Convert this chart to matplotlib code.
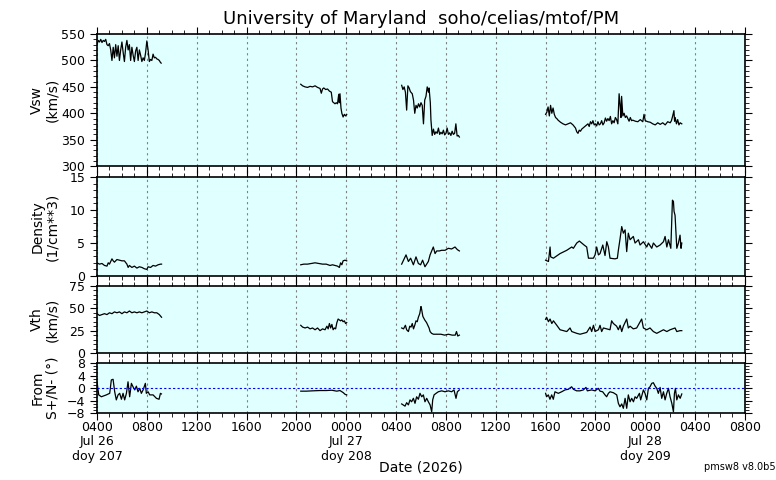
import matplotlib
matplotlib.use("Agg")
import matplotlib.pyplot as plt
from matplotlib.ticker import MultipleLocator, FixedLocator

# times are hours since 2026 Jul 26 00:00 UT
vsw_t = [
    [4.0, 4.1, 4.2, 4.3, 4.4, 4.5, 4.6, 4.7, 4.8, 4.9, 5.0, 5.1, 5.2, 5.3, 5.4, 5.5, 5.6, 5.7, 5.8,
     5.9, 6.0, 6.1, 6.2, 6.3, 6.4, 6.5, 6.6, 6.7, 6.8, 6.9, 7.0, 7.1, 7.2, 7.3, 7.4, 7.5, 7.6, 7.7,
     7.8, 7.9, 8.0, 8.1, 8.2, 8.3, 8.4, 8.5, 8.6, 8.7, 8.8, 8.9, 9.0, 9.1, 9.15],
    [20.35, 20.5, 20.7, 20.9, 21.1, 21.3, 21.5, 21.7, 21.9, 22.0, 22.1, 22.2, 22.35, 22.5, 22.65,
     22.8, 22.9, 23.0, 23.1, 23.2, 23.3, 23.4, 23.45, 23.5, 23.58, 23.65, 23.75, 23.85, 23.95, 24.04],
    [28.45, 28.55, 28.65, 28.75, 28.85, 28.95, 29.05, 29.15, 29.3, 29.4, 29.5, 29.6, 29.7, 29.8,
     29.9, 30.0, 30.1, 30.2, 30.3, 30.4, 30.5, 30.6, 30.65, 30.75, 30.8, 30.9, 31.0, 31.1, 31.2,
     31.3, 31.4, 31.5, 31.6, 31.7, 31.8, 31.9, 32.0, 32.1, 32.2, 32.3, 32.4, 32.5, 32.6, 32.7,
     32.8, 32.9, 33.0, 33.08],
    [40.0, 40.1, 40.2, 40.3, 40.4, 40.5, 40.6, 40.7, 40.8, 40.9, 41.0, 41.2, 41.4, 41.6, 41.8,
     42.0, 42.2, 42.4, 42.5, 42.6, 42.7, 42.8, 42.9, 43.0, 43.2, 43.4, 43.5, 43.6, 43.7, 43.8,
     43.9, 44.0, 44.1, 44.2, 44.3, 44.4, 44.5, 44.6, 44.7, 44.8, 44.9, 45.0, 45.1, 45.2, 45.3,
     45.4, 45.5, 45.6, 45.7, 45.8, 45.9, 46.0, 46.05, 46.1, 46.2, 46.3, 46.4, 46.5, 46.6, 46.7,
     46.8, 46.9, 47.0, 47.2, 47.4, 47.6, 47.8, 47.9, 48.0, 48.2, 48.4, 48.6, 48.8, 49.0, 49.2,
     49.4, 49.6, 49.8, 50.0, 50.1, 50.2, 50.3, 50.35, 50.4, 50.5, 50.6, 50.7, 50.8, 50.93],
]
vsw = [
    [530, 538, 535, 540, 534, 538, 536, 540, 530, 528, 532, 520, 500, 525, 505, 530, 508, 528, 500,
     520, 535, 515, 498, 525, 538, 520, 530, 500, 525, 510, 498, 518, 525, 500, 520, 510, 498, 505,
     500, 515, 537, 520, 498, 502, 500, 512, 505, 506, 503, 502, 500, 496, 495],
    [455, 452, 450, 449, 451, 450, 452, 449, 447, 438, 446, 448, 445, 446, 442,
     440, 422, 420, 418, 420, 418, 436, 420, 437, 410, 400, 393, 398, 395, 398],
    [453, 445, 450, 440, 406, 452, 448, 441, 437, 425, 400, 415, 410, 418,
     412, 420, 415, 380, 425, 432, 450, 440, 448, 420, 387, 358, 370, 360, 365,
     362, 372, 360, 364, 361, 368, 359, 362, 372, 360, 363, 358, 366, 360, 362,
     380, 357, 358, 355],
    [398, 402, 412, 395, 415, 400, 410, 398, 392, 390, 387, 383, 380, 378, 380,
     382, 378, 372, 365, 362, 368, 366, 370, 372, 376, 380, 375, 384, 380, 386,
     378, 380, 376, 384, 378, 380, 386, 378, 382, 391, 385, 390, 386, 394, 380,
     386, 382, 392, 388, 380, 437, 410, 392, 432, 395, 400, 392, 395, 390, 385,
     392, 386, 387, 385, 384, 388, 384, 398, 386, 384, 383, 380, 378, 382, 379,
     382, 378, 384, 382, 386, 395, 405, 385, 392, 380, 388, 378, 382, 380],
]

den_t = [
    [4.0, 4.2, 4.4, 4.6, 4.8, 4.9, 5.0, 5.2, 5.3, 5.4, 5.6, 5.8, 6.0, 6.2, 6.4, 6.5, 6.6, 6.8, 7.0,
     7.2, 7.4, 7.6, 7.8, 8.0, 8.1, 8.3, 8.5, 8.7, 8.9, 9.1, 9.18],
    [20.35, 20.6, 20.9, 21.2, 21.5, 21.8, 22.1, 22.4, 22.7, 22.9, 23.1, 23.3, 23.45, 23.55, 23.65,
     23.75, 23.9, 24.04],
    [28.45, 28.8, 28.99, 29.17, 29.39, 29.6, 29.79, 29.97, 30.13, 30.32, 30.59, 30.73, 30.86,
     30.99, 31.13, 31.26, 31.47, 31.66, 31.93, 32.2, 32.46, 32.73, 32.92, 33.08],
    [40.0, 40.23, 40.36, 40.41, 40.63, 41.16, 41.7, 42.1, 42.23, 42.5, 42.71, 42.9, 43.09, 43.3,
     43.44, 43.84, 43.97, 44.1, 44.24, 44.37, 44.59, 44.77, 44.91, 45.04, 45.17, 45.57, 45.76,
     45.84, 45.98, 46.11, 46.24, 46.38, 46.51, 46.64, 46.78, 47.04, 47.18, 47.45, 47.58, 47.85,
     48.12, 48.25, 48.52, 48.65, 48.92, 49.19, 49.46, 49.59, 49.73, 49.86, 50.05, 50.18, 50.26,
     50.31, 50.39, 50.53, 50.66, 50.79, 50.87, 50.93],
]
den = [
    [2.0, 1.8, 1.9, 1.6, 1.5, 2.0, 1.8, 2.6, 2.3, 2.1, 2.5, 2.4, 2.3, 2.3, 1.8, 1.3, 1.6, 1.3, 1.5,
     1.2, 1.4, 1.3, 1.1, 1.0, 1.4, 1.3, 1.6, 1.5, 1.7, 1.8, 1.8],
    [1.7, 1.8, 1.8, 1.9, 2.0, 1.9, 1.8, 1.8, 1.6, 1.7, 1.6, 1.5, 1.3, 2.0, 1.7, 2.3, 2.4, 2.3],
    [1.8, 3.2, 2.2, 2.7, 1.7, 2.9, 1.9, 1.7, 2.4, 1.4, 2.2, 3.2, 3.8, 4.4, 3.4, 3.8, 3.8, 3.9,
     3.9, 4.2, 4.1, 4.4, 4.0, 3.8],
    [2.4, 2.2, 4.4, 2.9, 2.7, 3.4, 3.9, 4.4, 4.2, 5.0, 5.3, 5.0, 4.7, 4.4, 2.7, 2.7, 3.2, 4.4,
     3.2, 3.4, 4.7, 3.1, 5.2, 4.4, 2.7, 2.6, 2.7, 3.9, 5.7, 7.5, 6.5, 7.0, 3.7, 6.5, 5.5, 6.0,
     5.0, 5.5, 4.7, 5.2, 4.4, 5.0, 4.2, 5.0, 4.4, 4.7, 5.2, 6.0, 4.4, 5.5, 4.2, 11.5, 11.3, 9.8,
     9.2, 4.2, 5.0, 6.2, 4.2, 5.0],
]

vth_t = [
    [4.0, 4.2, 4.4, 4.6, 4.8, 5.0, 5.2, 5.4, 5.6, 5.8, 6.0, 6.2, 6.4, 6.6, 6.8, 7.0, 7.2, 7.4, 7.6,
     7.8, 8.0, 8.2, 8.4, 8.6, 8.8, 9.0, 9.18],
    [20.35, 20.5, 20.7, 20.9, 21.1, 21.3, 21.5, 21.7, 21.9, 22.1, 22.3, 22.45, 22.55, 22.65, 22.75,
     22.85, 22.95, 23.05, 23.15, 23.25, 23.35, 23.45, 23.55, 23.65, 23.75, 23.85, 23.95, 24.04],
    [28.45, 28.6, 28.75, 28.85, 28.99, 29.1, 29.2, 29.3, 29.4, 29.5, 29.6, 29.7, 29.79, 29.9, 30.0,
     30.05, 30.15, 30.3, 30.45, 30.55, 30.65, 30.73, 30.85, 31.0, 31.3, 31.6, 31.9, 32.2, 32.5,
     32.75, 32.85, 32.95, 33.08],
    [40.0, 40.08, 40.23, 40.36, 40.5, 40.63, 40.9, 41.16, 41.7, 41.96, 42.1, 42.5, 42.77, 43.3,
     43.57, 43.7, 43.84, 43.97, 44.24, 44.37, 44.5, 44.64, 45.17, 45.3, 45.44, 45.7, 45.84, 45.98,
     46.11, 46.24, 46.51, 46.64, 46.78, 47.04, 47.31, 47.71, 47.85, 48.12, 48.38, 48.65, 48.92,
     49.19, 49.46, 49.73, 49.99, 50.39, 50.53, 50.79, 50.93],
]
vth = [
    [44, 42, 43, 44, 43, 45, 44, 46, 45, 46, 44, 46, 45, 47, 45, 46, 45, 46, 45,
     46, 47, 45, 46, 45, 45, 43, 40],
    [31, 29, 28, 29, 27, 28, 26, 28, 25, 27, 26, 30, 27, 33, 28,
     32, 26, 28, 27, 34, 38, 37, 36, 37, 35, 36, 33, 34],
    [28, 27, 31, 26, 24, 30, 29, 33, 27, 31, 36, 35, 40, 44, 52,
     49, 41, 37, 34, 31, 28, 24, 22, 21, 21, 21, 20, 21, 20,
     20, 24, 19, 20],
    [37.7, 40, 35, 38, 33, 36, 31, 26, 24, 28, 24, 22, 21, 23,
     29, 24, 31, 24, 26, 31, 24, 28, 26, 36, 33, 30, 26, 31,
     24, 30, 38, 28, 30, 27, 28, 38, 28, 26, 28, 24, 22,
     24, 26, 24, 26, 28, 24, 25, 25],
]

ang_t = [
    [4.0, 4.14, 4.35, 4.75, 5.02, 5.15, 5.29, 5.42, 5.55, 5.69, 5.82, 5.96, 6.09, 6.22, 6.36, 6.49,
     6.62, 6.76, 6.89, 7.03, 7.16, 7.29, 7.43, 7.56, 7.7, 7.88, 7.96, 8.1, 8.23, 8.5, 8.77, 8.98,
     9.09, 9.17],
    [20.35, 20.8, 21.3, 21.9, 22.4, 22.84, 23.24, 23.5, 23.77, 23.9, 24.04],
    [28.45, 28.72, 28.85, 28.99, 29.12, 29.25, 29.39, 29.52, 29.65, 29.79, 29.92, 30.06, 30.19,
     30.32, 30.46, 30.59, 30.73, 30.86, 30.94, 31.05, 31.21, 31.39, 31.66, 31.93, 32.2, 32.46,
     32.65, 32.81, 32.92, 33.08],
    [40.0, 40.08, 40.22, 40.35, 40.49, 40.62, 40.75, 41.02, 41.29, 41.56, 41.82, 42.09, 42.23,
     42.49, 42.76, 43.03, 43.24, 43.35, 43.7, 43.97, 44.23, 44.37, 44.58, 44.77, 44.9, 45.04,
     45.17, 45.44, 45.71, 45.84, 45.97, 46.11, 46.24, 46.38, 46.51, 46.64, 46.78, 46.91, 47.05,
     47.18, 47.31, 47.53, 47.63, 47.85, 47.98, 48.12, 48.25, 48.38, 48.52, 48.65, 48.79, 48.92,
     49.05, 49.19, 49.32, 49.46, 49.59, 49.72, 49.86, 49.99, 50.13, 50.26, 50.34, 50.42, 50.53,
     50.66, 50.8, 50.93],
]
ang = [
    [2.0, -2.2, -2.8, -2.2, -1.7, 2.6, 2.8, -1.2, -3.8, -2.2, -1.7, -3.6, -1.7, -3.8, -1.7, 2.0,
     -2.8, 1.5, 0.4, -0.6, 0.6, -1.2, -0.1, -1.7, -0.6, 1.5, -1.7, -1.2, -2.2, -2.2, -3.3, -3.6,
     -1.7, -1.9],
    [-1.0, -1.0, -0.9, -0.8, -0.8, -0.7, -1.0, -0.8, -1.5, -2.0, -2.2],
    [-5.1, -5.8, -4.7, -5.4, -3.8, -4.4, -3.3, -4.9, -2.8, -3.6, -1.7, -2.8, -2.2,
     -4.4, -3.3, -4.4, -5.4, -7.6, -3.8, -2.2, -1.7, -1.2, -0.9, -1.2, -0.9, -1.2,
     -0.6, -3.3, -1.2, -0.6],
    [-1.7, -2.8, -2.2, -3.6, -2.2, -3.6, -1.2, -1.7, -1.2, -0.6, -0.4, 0.4, -0.4,
     -0.9, -0.9, -0.6, 0.2, -0.9, -0.6, -0.9, -0.1, -1.0, -1.2, -2.2, -2.8, -1.7,
     -1.2, -1.5, -2.2, -4.9, -6.0, -5.1, -6.5, -3.3, -6.5, -2.2, -4.4, -3.3, -4.4,
     -2.8, -3.3, -1.7, -3.8, -0.6, -1.7, -3.8, -0.1, 0.4, 1.5, 1.7, 0.6, -0.1,
     -1.7, 0.2, -3.3, -1.2, -3.8, -1.7, -0.1, -2.8, -4.9, -7.6, -1.7, -0.1, -3.8,
     -2.2, -3.3, -1.9],
]

tick_hours = list(range(4, 57, 4))
tick_labels = ["0400\nJul 26\ndoy 207", "0800", "1200", "1600", "2000",
               "0000\nJul 27\ndoy 208", "0400", "0800", "1200", "1600", "2000",
               "0000\nJul 28\ndoy 209", "0400", "0800"]

panels = [
    (vsw_t, vsw, "Vsw\n(km/s)", (300, 550), 50, 10),
    (den_t, den, "Density\n(1/cm**3)", (0, 15), 5, 1),
    (vth_t, vth, "Vth\n(km/s)", (0, 75), 25, 5),
    (ang_t, ang, "From\nS+/N- (°)", (-8, 8), 4, 1),
]
# [bottom, height] in figure fraction
boxes = [(0.654, 0.275), (0.425, 0.206), (0.2646, 0.1396), (0.1396, 0.104)]

fig = plt.figure(figsize=(7.76, 4.8), dpi=100)

for i, (ts, vs, lab, lim, major, minor) in enumerate(panels):
    ax = fig.add_axes([0.125, boxes[i][0], 0.835, boxes[i][1]])
    ax.set_facecolor("#e0ffff")
    for t, v in zip(ts, vs):
        ax.plot(t, v, color="black", lw=0.9)
    ax.set_xlim(4, 56)
    ax.set_ylim(*lim)
    ax.xaxis.set_major_locator(FixedLocator(tick_hours))
    ax.xaxis.set_minor_locator(MultipleLocator(1))
    ax.yaxis.set_major_locator(MultipleLocator(major))
    ax.yaxis.set_minor_locator(MultipleLocator(minor))
    ax.tick_params(which="both", direction="out", top=True, right=True, labelsize=9)
    ax.tick_params(which="major", length=5)
    ax.tick_params(which="minor", length=3)
    ax.tick_params(axis="x", pad=0.5)
    ax.grid(axis="x", which="major", color="gray", ls=(0, (2, 3)), lw=0.8)
    for s in ax.spines.values():
        s.set_linewidth(1.2)
    ax.set_ylabel(lab, fontsize=10, linespacing=1.1)
    ax.yaxis.set_label_coords(-0.058, 0.5)
    if i == 3:
        ax.axhline(0, color="blue", ls=(0, (2, 2)), lw=0.8)
        ax.set_xticklabels(tick_labels, linespacing=1.15)
    else:
        ax.set_xticklabels([])

fig.suptitle("University of Maryland  soho/celias/mtof/PM", x=0.543, y=0.98, fontsize=13)
fig.text(0.543, 0.027, "Date (2026)", fontsize=10, ha="center", va="center")
fig.text(0.953, 0.027, "pmsw8 v8.0b5", fontsize=7, ha="center", va="center")

fig.savefig("out.png", dpi=100)
